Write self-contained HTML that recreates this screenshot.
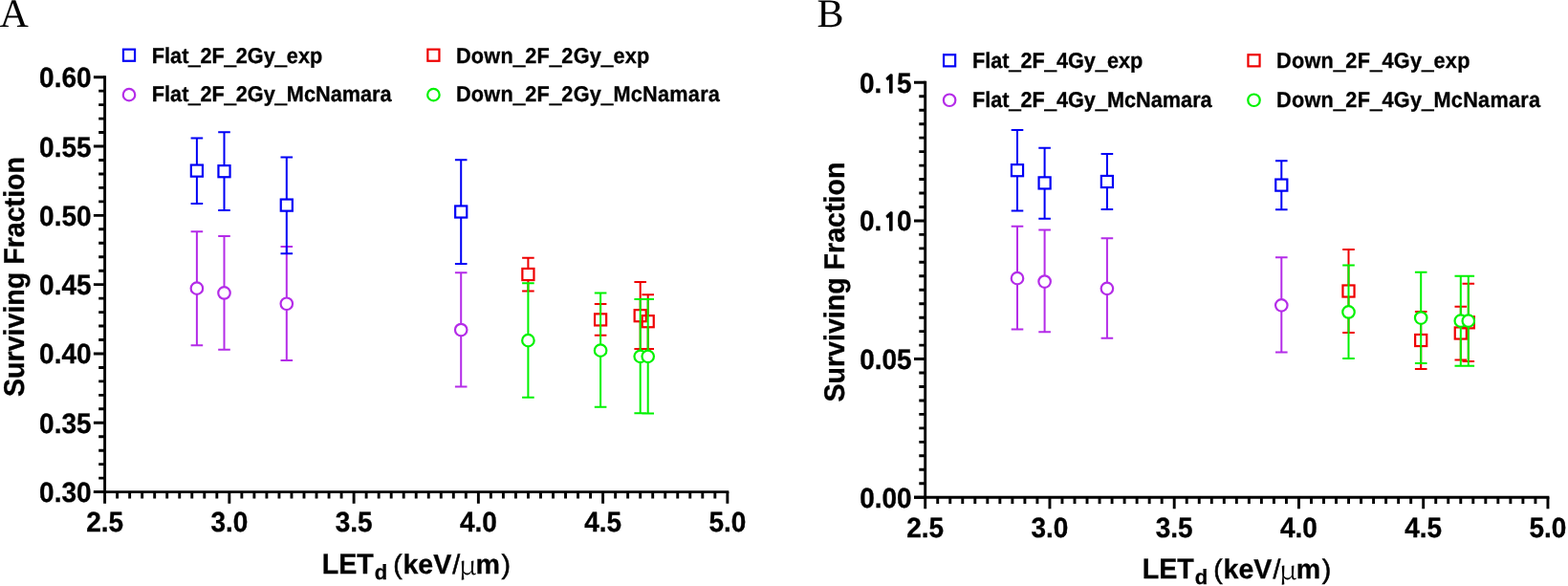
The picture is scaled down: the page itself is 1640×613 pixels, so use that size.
<!DOCTYPE html>
<html><head><meta charset="utf-8"><title>Surviving fraction vs LETd</title>
<style>html,body{margin:0;padding:0;background:#fff;overflow:hidden}svg{display:block;text-rendering:geometricPrecision}</style></head>
<body><svg width="1640" height="613" viewBox="0 0 1640 613">
<rect width="1640" height="613" fill="#fff"/>
<text font-family="Liberation Serif, 'Times New Roman', serif" font-size="42" transform="translate(-0.5 27.7) scale(1 1.0)">A</text>
<text font-family="Liberation Serif, 'Times New Roman', serif" font-size="42" transform="translate(854.6 27.7) scale(1 1.0)">B</text>
<g transform="translate(0 0)">
<g stroke="#000" stroke-width="2.9" fill="none">
<path d="M109.6 79.25V526.70M97.9 514.6H762.30"/>
<path d="M122.62 514.6V521.40 M135.65 514.6V521.40 M148.67 514.6V521.40 M161.70 514.6V521.40 M174.72 514.6V521.40 M187.75 514.6V521.40 M200.78 514.6V521.40 M213.80 514.6V521.40 M226.83 514.6V521.40 M239.85 514.6V526.70 M252.87 514.6V521.40 M265.90 514.6V521.40 M278.92 514.6V521.40 M291.95 514.6V521.40 M304.98 514.6V521.40 M318.00 514.6V521.40 M331.02 514.6V521.40 M344.05 514.6V521.40 M357.08 514.6V521.40 M370.10 514.6V526.70 M383.12 514.6V521.40 M396.15 514.6V521.40 M409.18 514.6V521.40 M422.20 514.6V521.40 M435.23 514.6V521.40 M448.25 514.6V521.40 M461.27 514.6V521.40 M474.30 514.6V521.40 M487.33 514.6V521.40 M500.35 514.6V526.70 M513.38 514.6V521.40 M526.40 514.6V521.40 M539.43 514.6V521.40 M552.45 514.6V521.40 M565.48 514.6V521.40 M578.50 514.6V521.40 M591.52 514.6V521.40 M604.55 514.6V521.40 M617.58 514.6V521.40 M630.60 514.6V526.70 M643.63 514.6V521.40 M656.65 514.6V521.40 M669.68 514.6V521.40 M682.70 514.6V521.40 M695.73 514.6V521.40 M708.75 514.6V521.40 M721.77 514.6V521.40 M734.80 514.6V521.40 M747.83 514.6V521.40 M760.85 514.6V526.70 M97.90 514.60H109.6 M103.20 500.14H109.6 M103.20 485.67H109.6 M103.20 471.21H109.6 M103.20 456.75H109.6 M97.90 442.28H109.6 M103.20 427.82H109.6 M103.20 413.36H109.6 M103.20 398.89H109.6 M103.20 384.43H109.6 M97.90 369.97H109.6 M103.20 355.50H109.6 M103.20 341.04H109.6 M103.20 326.58H109.6 M103.20 312.11H109.6 M97.90 297.65H109.6 M103.20 283.19H109.6 M103.20 268.72H109.6 M103.20 254.26H109.6 M103.20 239.80H109.6 M97.90 225.33H109.6 M103.20 210.87H109.6 M103.20 196.41H109.6 M103.20 181.94H109.6 M103.20 167.48H109.6 M97.90 153.02H109.6 M103.20 138.55H109.6 M103.20 124.09H109.6 M103.20 109.63H109.6 M103.20 95.16H109.6 M97.90 80.70H109.6"/>
</g>
<g font-family="Liberation Sans, Arial, sans-serif" font-weight="bold" stroke="#000" stroke-width="0.3" font-size="28.0" fill="#000">
<text text-anchor="end" transform="translate(95.6 525.10) scale(1 1.05)">0.30</text>
<text text-anchor="end" transform="translate(95.6 452.78) scale(1 1.05)">0.35</text>
<text text-anchor="end" transform="translate(95.6 380.47) scale(1 1.05)">0.40</text>
<text text-anchor="end" transform="translate(95.6 308.15) scale(1 1.05)">0.45</text>
<text text-anchor="end" transform="translate(95.6 235.83) scale(1 1.05)">0.50</text>
<text text-anchor="end" transform="translate(95.6 163.52) scale(1 1.05)">0.55</text>
<text text-anchor="end" transform="translate(95.6 91.20) scale(1 1.05)">0.60</text>
<text text-anchor="middle" transform="translate(109.60 556.2) scale(1 1.05)">2.5</text>
<text text-anchor="middle" transform="translate(239.85 556.2) scale(1 1.05)">3.0</text>
<text text-anchor="middle" transform="translate(370.10 556.2) scale(1 1.05)">3.5</text>
<text text-anchor="middle" transform="translate(500.35 556.2) scale(1 1.05)">4.0</text>
<text text-anchor="middle" transform="translate(630.60 556.2) scale(1 1.05)">4.5</text>
<text text-anchor="middle" transform="translate(760.85 556.2) scale(1 1.05)">5.0</text>
</g>
<text font-family="Liberation Sans, Arial, sans-serif" font-weight="bold" stroke="#000" stroke-width="0.3" font-size="28.6" text-anchor="middle" transform="translate(25.2 289.5) rotate(-90) scale(1 1.05)">Surviving Fraction</text>
<g transform="translate(0 599.8) scale(1 1.0)">
<text font-family="Liberation Sans, Arial, sans-serif" font-weight="bold" stroke="#000" stroke-width="0.3" font-size="28.6" transform="translate(336.7 0) scale(1 1.04)">LET</text>
<text font-family="Liberation Sans, Arial, sans-serif" font-weight="bold" stroke="#000" stroke-width="0.3" font-size="22" x="391.7" y="6.0">d</text>
<text font-family="Liberation Sans, Arial, sans-serif" font-size="28.4" stroke="#000" stroke-width="0.55" x="411.2" y="0">(</text>
<text font-family="Liberation Sans, Arial, sans-serif" font-weight="bold" stroke="#000" stroke-width="0.3" font-size="28.6" x="421.4" y="0">keV</text>
<text font-family="Liberation Sans, Arial, sans-serif" font-size="28.4" stroke="#000" stroke-width="0.55" x="473.3" y="0">/</text>
<text font-family="'Noto Serif CJK SC', 'Liberation Serif', serif" font-size="27.5" transform="translate(479.7 0.7) scale(1.1 1)">&#956;</text>
<text font-family="Liberation Sans, Arial, sans-serif" font-weight="bold" stroke="#000" stroke-width="0.3" font-size="28.6" x="497.6" y="0">m</text>
<text font-family="Liberation Sans, Arial, sans-serif" font-size="28.4" stroke="#000" stroke-width="0.55" x="524.6" y="0">)</text>
</g>
<rect x="128.95" y="51.65" width="12.1" height="12.1" fill="none" stroke="#0000F5" stroke-width="2.2"/>
<text font-family="Liberation Sans, Arial, sans-serif" font-weight="bold" stroke="#000" stroke-width="0.3" font-size="21.7" transform="translate(158.8 65.6) scale(1 1.05)">Flat<tspan dy="0.85" stroke-width="1.1">_</tspan><tspan dy="-0.85">2F</tspan><tspan dy="0.85" stroke-width="1.1">_</tspan><tspan dy="-0.85">2Gy</tspan><tspan dy="0.85" stroke-width="1.1">_</tspan><tspan dy="-0.85">exp</tspan></text>
<circle cx="135.00" cy="99.15" r="6.25" fill="#fff" stroke="#B42CE8" stroke-width="2.2"/>
<text font-family="Liberation Sans, Arial, sans-serif" font-weight="bold" stroke="#000" stroke-width="0.3" font-size="21.7" transform="translate(158.8 106.2) scale(1 1.05)">Flat<tspan dy="0.85" stroke-width="1.1">_</tspan><tspan dy="-0.85">2F</tspan><tspan dy="0.85" stroke-width="1.1">_</tspan><tspan dy="-0.85">2Gy</tspan><tspan dy="0.85" stroke-width="1.1">_</tspan><tspan dy="-0.85">McNamara</tspan></text>
<rect x="447.35" y="51.65" width="12.1" height="12.1" fill="none" stroke="#EE0000" stroke-width="2.2"/>
<text font-family="Liberation Sans, Arial, sans-serif" font-weight="bold" stroke="#000" stroke-width="0.3" font-size="21.7" letter-spacing="0.25" transform="translate(476.9 65.6) scale(1 1.05)">Down<tspan dy="0.85" stroke-width="1.1">_</tspan><tspan dy="-0.85">2F</tspan><tspan dy="0.85" stroke-width="1.1">_</tspan><tspan dy="-0.85">2Gy</tspan><tspan dy="0.85" stroke-width="1.1">_</tspan><tspan dy="-0.85">exp</tspan></text>
<circle cx="453.40" cy="99.15" r="6.25" fill="#fff" stroke="#00F200" stroke-width="2.2"/>
<text font-family="Liberation Sans, Arial, sans-serif" font-weight="bold" stroke="#000" stroke-width="0.3" font-size="21.7" letter-spacing="0.25" transform="translate(476.9 106.2) scale(1 1.05)">Down<tspan dy="0.85" stroke-width="1.1">_</tspan><tspan dy="-0.85">2F</tspan><tspan dy="0.85" stroke-width="1.1">_</tspan><tspan dy="-0.85">2Gy</tspan><tspan dy="0.85" stroke-width="1.1">_</tspan><tspan dy="-0.85">McNamara</tspan></text>
<path d="M205.90 242.20V361.20 M199.60 242.20H212.20M199.60 361.20H212.20 M234.50 246.90V365.80 M228.20 246.90H240.80M228.20 365.80H240.80 M299.80 258.10V377.00 M293.50 258.10H306.10M293.50 377.00H306.10 M482.20 285.30V404.50 M475.90 285.30H488.50M475.90 404.50H488.50" stroke="#B42CE8" stroke-width="2.0" fill="none"/>
<circle cx="205.90" cy="301.65" r="6.25" fill="#fff" stroke="#B42CE8" stroke-width="2.2"/>
<circle cx="234.50" cy="306.45" r="6.25" fill="#fff" stroke="#B42CE8" stroke-width="2.2"/>
<circle cx="299.80" cy="317.75" r="6.25" fill="#fff" stroke="#B42CE8" stroke-width="2.2"/>
<circle cx="482.20" cy="345.05" r="6.25" fill="#fff" stroke="#B42CE8" stroke-width="2.2"/>
<path d="M205.90 144.40V172.55M205.90 184.65V212.90 M199.60 144.40H212.20M199.60 212.90H212.20 M234.50 138.30V173.15M234.50 185.25V220.00 M228.20 138.30H240.80M228.20 220.00H240.80 M299.80 164.50V208.55M299.80 220.65V265.30 M293.50 164.50H306.10M293.50 265.30H306.10 M482.20 167.20V215.45M482.20 227.55V276.00 M475.90 167.20H488.50M475.90 276.00H488.50" stroke="#0000F5" stroke-width="2.0" fill="none"/>
<rect x="199.85" y="172.55" width="12.1" height="12.1" fill="none" stroke="#0000F5" stroke-width="2.2"/>
<rect x="228.45" y="173.15" width="12.1" height="12.1" fill="none" stroke="#0000F5" stroke-width="2.2"/>
<rect x="293.75" y="208.55" width="12.1" height="12.1" fill="none" stroke="#0000F5" stroke-width="2.2"/>
<rect x="476.15" y="215.45" width="12.1" height="12.1" fill="none" stroke="#0000F5" stroke-width="2.2"/>
<path d="M552.40 269.80V280.95M552.40 293.05V304.40 M546.10 269.80H558.70M546.10 304.40H558.70 M628.10 318.10V328.35M628.10 340.45V350.70 M621.80 318.10H634.40M621.80 350.70H634.40 M669.70 295.10V324.15M669.70 336.25V364.90 M663.40 295.10H676.00M663.40 364.90H676.00 M677.70 308.30V330.15M677.70 342.25V364.90 M671.40 308.30H684.00M671.40 364.90H684.00" stroke="#EE0000" stroke-width="2.0" fill="none"/>
<rect x="546.35" y="280.95" width="12.1" height="12.1" fill="none" stroke="#EE0000" stroke-width="2.2"/>
<rect x="622.05" y="328.35" width="12.1" height="12.1" fill="none" stroke="#EE0000" stroke-width="2.2"/>
<rect x="663.65" y="324.15" width="12.1" height="12.1" fill="none" stroke="#EE0000" stroke-width="2.2"/>
<rect x="671.65" y="330.15" width="12.1" height="12.1" fill="none" stroke="#EE0000" stroke-width="2.2"/>
<path d="M552.40 296.30V415.70 M546.10 296.30H558.70M546.10 415.70H558.70 M628.10 306.60V425.80 M621.80 306.60H634.40M621.80 425.80H634.40 M669.70 313.00V432.30 M663.40 313.00H676.00M663.40 432.30H676.00 M677.70 313.00V432.50 M671.40 313.00H684.00M671.40 432.50H684.00" stroke="#00F200" stroke-width="2.0" fill="none"/>
<circle cx="552.40" cy="356.15" r="6.25" fill="#fff" stroke="#00F200" stroke-width="2.2"/>
<circle cx="628.10" cy="366.65" r="6.25" fill="#fff" stroke="#00F200" stroke-width="2.2"/>
<circle cx="669.70" cy="372.85" r="6.25" fill="#fff" stroke="#00F200" stroke-width="2.2"/>
<circle cx="677.70" cy="372.85" r="6.25" fill="#fff" stroke="#00F200" stroke-width="2.2"/>
</g>
<g transform="translate(858.1 5.6)">
<g stroke="#000" stroke-width="2.9" fill="none">
<path d="M109.6 79.25V526.70M97.9 514.6H762.30"/>
<path d="M122.62 514.6V521.40 M135.65 514.6V521.40 M148.67 514.6V521.40 M161.70 514.6V521.40 M174.72 514.6V521.40 M187.75 514.6V521.40 M200.78 514.6V521.40 M213.80 514.6V521.40 M226.83 514.6V521.40 M239.85 514.6V526.70 M252.87 514.6V521.40 M265.90 514.6V521.40 M278.92 514.6V521.40 M291.95 514.6V521.40 M304.98 514.6V521.40 M318.00 514.6V521.40 M331.02 514.6V521.40 M344.05 514.6V521.40 M357.08 514.6V521.40 M370.10 514.6V526.70 M383.12 514.6V521.40 M396.15 514.6V521.40 M409.18 514.6V521.40 M422.20 514.6V521.40 M435.23 514.6V521.40 M448.25 514.6V521.40 M461.27 514.6V521.40 M474.30 514.6V521.40 M487.33 514.6V521.40 M500.35 514.6V526.70 M513.38 514.6V521.40 M526.40 514.6V521.40 M539.43 514.6V521.40 M552.45 514.6V521.40 M565.48 514.6V521.40 M578.50 514.6V521.40 M591.52 514.6V521.40 M604.55 514.6V521.40 M617.58 514.6V521.40 M630.60 514.6V526.70 M643.63 514.6V521.40 M656.65 514.6V521.40 M669.68 514.6V521.40 M682.70 514.6V521.40 M695.73 514.6V521.40 M708.75 514.6V521.40 M721.77 514.6V521.40 M734.80 514.6V521.40 M747.83 514.6V521.40 M760.85 514.6V526.70 M97.90 514.60H109.6 M103.20 500.14H109.6 M103.20 485.67H109.6 M103.20 471.21H109.6 M103.20 456.75H109.6 M103.20 442.28H109.6 M103.20 427.82H109.6 M103.20 413.36H109.6 M103.20 398.89H109.6 M103.20 384.43H109.6 M97.90 369.97H109.6 M103.20 355.50H109.6 M103.20 341.04H109.6 M103.20 326.58H109.6 M103.20 312.11H109.6 M103.20 297.65H109.6 M103.20 283.19H109.6 M103.20 268.72H109.6 M103.20 254.26H109.6 M103.20 239.80H109.6 M97.90 225.33H109.6 M103.20 210.87H109.6 M103.20 196.41H109.6 M103.20 181.94H109.6 M103.20 167.48H109.6 M103.20 153.02H109.6 M103.20 138.55H109.6 M103.20 124.09H109.6 M103.20 109.63H109.6 M103.20 95.16H109.6 M97.90 80.70H109.6"/>
</g>
<g font-family="Liberation Sans, Arial, sans-serif" font-weight="bold" stroke="#000" stroke-width="0.3" font-size="28.0" fill="#000">
<text text-anchor="end" transform="translate(95.6 525.10) scale(1 1.05)">0.00</text>
<text text-anchor="end" transform="translate(95.6 380.47) scale(1 1.05)">0.05</text>
<text text-anchor="end" transform="translate(95.6 235.83) scale(1 1.05)">0.<tspan font-family="NanumGothic, Liberation Sans, sans-serif" font-size="24.0" stroke-width="1.1" dx="1.6">1</tspan><tspan dx="-0.4">0</tspan></text>
<text text-anchor="end" transform="translate(95.6 91.20) scale(1 1.05)">0.<tspan font-family="NanumGothic, Liberation Sans, sans-serif" font-size="24.0" stroke-width="1.1" dx="1.6">1</tspan><tspan dx="-0.4">5</tspan></text>
<text text-anchor="middle" transform="translate(109.60 556.2) scale(1 1.05)">2.5</text>
<text text-anchor="middle" transform="translate(239.85 556.2) scale(1 1.05)">3.0</text>
<text text-anchor="middle" transform="translate(370.10 556.2) scale(1 1.05)">3.5</text>
<text text-anchor="middle" transform="translate(500.35 556.2) scale(1 1.05)">4.0</text>
<text text-anchor="middle" transform="translate(630.60 556.2) scale(1 1.05)">4.5</text>
<text text-anchor="middle" transform="translate(760.85 556.2) scale(1 1.05)">5.0</text>
</g>
<text font-family="Liberation Sans, Arial, sans-serif" font-weight="bold" stroke="#000" stroke-width="0.3" font-size="28.6" text-anchor="middle" transform="translate(25.2 289.5) rotate(-90) scale(1 1.05)">Surviving Fraction</text>
<g transform="translate(0 599.8) scale(1 1.0)">
<text font-family="Liberation Sans, Arial, sans-serif" font-weight="bold" stroke="#000" stroke-width="0.3" font-size="28.6" transform="translate(336.7 0) scale(1 1.04)">LET</text>
<text font-family="Liberation Sans, Arial, sans-serif" font-weight="bold" stroke="#000" stroke-width="0.3" font-size="22" x="391.7" y="6.0">d</text>
<text font-family="Liberation Sans, Arial, sans-serif" font-size="28.4" stroke="#000" stroke-width="0.55" x="411.2" y="0">(</text>
<text font-family="Liberation Sans, Arial, sans-serif" font-weight="bold" stroke="#000" stroke-width="0.3" font-size="28.6" x="421.4" y="0">keV</text>
<text font-family="Liberation Sans, Arial, sans-serif" font-size="28.4" stroke="#000" stroke-width="0.55" x="473.3" y="0">/</text>
<text font-family="'Noto Serif CJK SC', 'Liberation Serif', serif" font-size="27.5" transform="translate(479.7 0.7) scale(1.1 1)">&#956;</text>
<text font-family="Liberation Sans, Arial, sans-serif" font-weight="bold" stroke="#000" stroke-width="0.3" font-size="28.6" x="497.6" y="0">m</text>
<text font-family="Liberation Sans, Arial, sans-serif" font-size="28.4" stroke="#000" stroke-width="0.55" x="524.6" y="0">)</text>
</g>
<rect x="128.95" y="51.65" width="12.1" height="12.1" fill="none" stroke="#0000F5" stroke-width="2.2"/>
<text font-family="Liberation Sans, Arial, sans-serif" font-weight="bold" stroke="#000" stroke-width="0.3" font-size="21.7" transform="translate(158.8 65.6) scale(1 1.05)">Flat<tspan dy="0.85" stroke-width="1.1">_</tspan><tspan dy="-0.85">2F</tspan><tspan dy="0.85" stroke-width="1.1">_</tspan><tspan dy="-0.85">4Gy</tspan><tspan dy="0.85" stroke-width="1.1">_</tspan><tspan dy="-0.85">exp</tspan></text>
<circle cx="135.00" cy="99.15" r="6.25" fill="#fff" stroke="#B42CE8" stroke-width="2.2"/>
<text font-family="Liberation Sans, Arial, sans-serif" font-weight="bold" stroke="#000" stroke-width="0.3" font-size="21.7" transform="translate(158.8 106.2) scale(1 1.05)">Flat<tspan dy="0.85" stroke-width="1.1">_</tspan><tspan dy="-0.85">2F</tspan><tspan dy="0.85" stroke-width="1.1">_</tspan><tspan dy="-0.85">4Gy</tspan><tspan dy="0.85" stroke-width="1.1">_</tspan><tspan dy="-0.85">McNamara</tspan></text>
<rect x="447.35" y="51.65" width="12.1" height="12.1" fill="none" stroke="#EE0000" stroke-width="2.2"/>
<text font-family="Liberation Sans, Arial, sans-serif" font-weight="bold" stroke="#000" stroke-width="0.3" font-size="21.7" letter-spacing="0.25" transform="translate(476.9 65.6) scale(1 1.05)">Down<tspan dy="0.85" stroke-width="1.1">_</tspan><tspan dy="-0.85">2F</tspan><tspan dy="0.85" stroke-width="1.1">_</tspan><tspan dy="-0.85">4Gy</tspan><tspan dy="0.85" stroke-width="1.1">_</tspan><tspan dy="-0.85">exp</tspan></text>
<circle cx="453.40" cy="99.15" r="6.25" fill="#fff" stroke="#00F200" stroke-width="2.2"/>
<text font-family="Liberation Sans, Arial, sans-serif" font-weight="bold" stroke="#000" stroke-width="0.3" font-size="21.7" letter-spacing="0.25" transform="translate(476.9 106.2) scale(1 1.05)">Down<tspan dy="0.85" stroke-width="1.1">_</tspan><tspan dy="-0.85">2F</tspan><tspan dy="0.85" stroke-width="1.1">_</tspan><tspan dy="-0.85">4Gy</tspan><tspan dy="0.85" stroke-width="1.1">_</tspan><tspan dy="-0.85">McNamara</tspan></text>
<path d="M205.90 231.20V339.00 M199.60 231.20H212.20M199.60 339.00H212.20 M234.50 234.80V341.60 M228.20 234.80H240.80M228.20 341.60H240.80 M299.80 243.70V348.10 M293.50 243.70H306.10M293.50 348.10H306.10 M482.20 263.70V362.90 M475.90 263.70H488.50M475.90 362.90H488.50" stroke="#B42CE8" stroke-width="2.0" fill="none"/>
<circle cx="205.90" cy="285.55" r="6.25" fill="#fff" stroke="#B42CE8" stroke-width="2.2"/>
<circle cx="234.50" cy="288.95" r="6.25" fill="#fff" stroke="#B42CE8" stroke-width="2.2"/>
<circle cx="299.80" cy="296.25" r="6.25" fill="#fff" stroke="#B42CE8" stroke-width="2.2"/>
<circle cx="482.20" cy="313.75" r="6.25" fill="#fff" stroke="#B42CE8" stroke-width="2.2"/>
<path d="M205.90 130.40V166.55M205.90 178.65V214.80 M199.60 130.40H212.20M199.60 214.80H212.20 M234.50 149.10V179.75M234.50 191.85V223.10 M228.20 149.10H240.80M228.20 223.10H240.80 M299.80 155.40V178.35M299.80 190.45V213.40 M293.50 155.40H306.10M293.50 213.40H306.10 M482.20 162.60V181.95M482.20 194.05V213.70 M475.90 162.60H488.50M475.90 213.70H488.50" stroke="#0000F5" stroke-width="2.0" fill="none"/>
<rect x="199.85" y="166.55" width="12.1" height="12.1" fill="none" stroke="#0000F5" stroke-width="2.2"/>
<rect x="228.45" y="179.75" width="12.1" height="12.1" fill="none" stroke="#0000F5" stroke-width="2.2"/>
<rect x="293.75" y="178.35" width="12.1" height="12.1" fill="none" stroke="#0000F5" stroke-width="2.2"/>
<rect x="476.15" y="181.95" width="12.1" height="12.1" fill="none" stroke="#0000F5" stroke-width="2.2"/>
<path d="M552.40 255.40V292.85M552.40 304.95V342.50 M546.10 255.40H558.70M546.10 342.50H558.70 M628.10 320.40V344.35M628.10 356.45V380.50 M621.80 320.40H634.40M621.80 380.50H634.40 M669.70 315.20V336.85M669.70 348.95V371.00 M663.40 315.20H676.00M663.40 371.00H676.00 M677.70 291.10V325.65M677.70 337.75V372.30 M671.40 291.10H684.00M671.40 372.30H684.00" stroke="#EE0000" stroke-width="2.0" fill="none"/>
<rect x="546.35" y="292.85" width="12.1" height="12.1" fill="none" stroke="#EE0000" stroke-width="2.2"/>
<rect x="622.05" y="344.35" width="12.1" height="12.1" fill="none" stroke="#EE0000" stroke-width="2.2"/>
<rect x="663.65" y="336.85" width="12.1" height="12.1" fill="none" stroke="#EE0000" stroke-width="2.2"/>
<rect x="671.65" y="325.65" width="12.1" height="12.1" fill="none" stroke="#EE0000" stroke-width="2.2"/>
<path d="M552.40 271.80V369.30 M546.10 271.80H558.70M546.10 369.30H558.70 M628.10 279.10V374.30 M621.80 279.10H634.40M621.80 374.30H634.40 M669.70 283.10V377.10 M663.40 283.10H676.00M663.40 377.10H676.00 M677.70 283.10V377.10 M671.40 283.10H684.00M671.40 377.10H684.00" stroke="#00F200" stroke-width="2.0" fill="none"/>
<circle cx="552.40" cy="320.85" r="6.25" fill="#fff" stroke="#00F200" stroke-width="2.2"/>
<circle cx="628.10" cy="326.95" r="6.25" fill="#fff" stroke="#00F200" stroke-width="2.2"/>
<circle cx="669.70" cy="330.05" r="6.25" fill="#fff" stroke="#00F200" stroke-width="2.2"/>
<circle cx="677.70" cy="330.05" r="6.25" fill="#fff" stroke="#00F200" stroke-width="2.2"/>
</g>
</svg></body></html>
